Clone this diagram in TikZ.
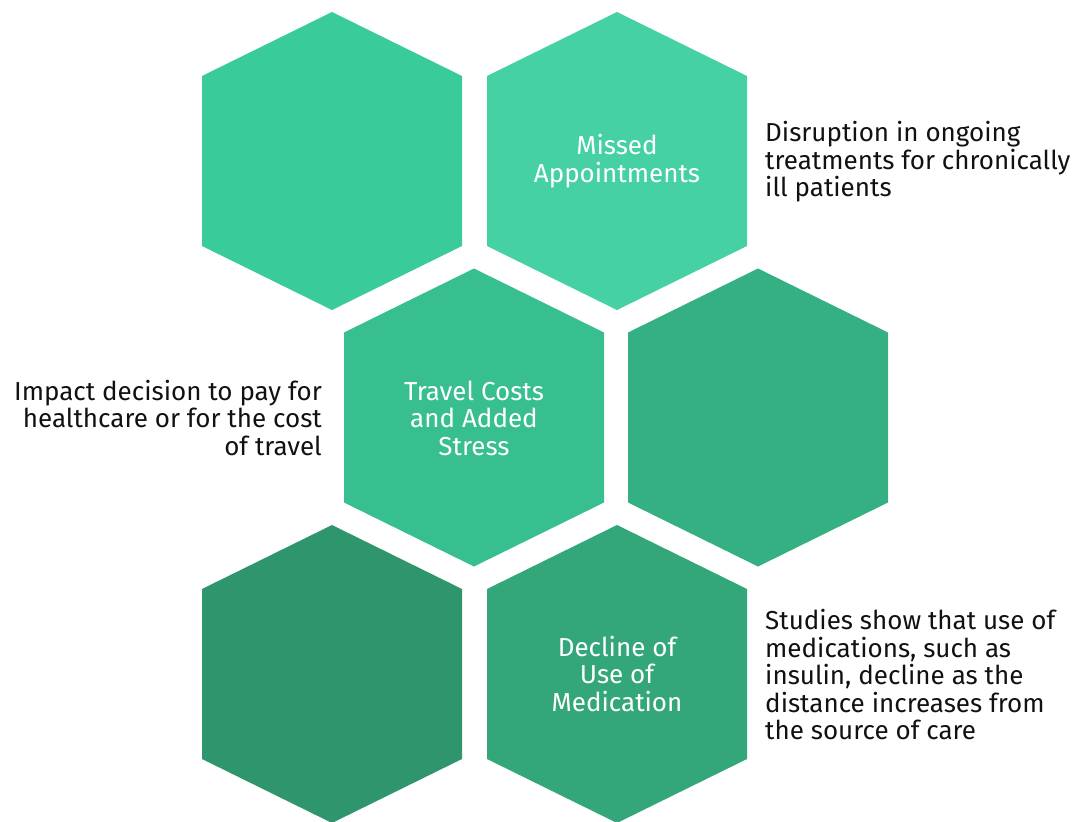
\documentclass[tikz,border=0pt]{standalone}
\usepackage{fontspec}
\setmainfont{Fira Sans}
\definecolor{hA}{HTML}{3ACB9A}
\definecolor{hB}{HTML}{45D1A3}
\definecolor{hC}{HTML}{37BF8F}
\definecolor{hD}{HTML}{35B083}
\definecolor{hE}{HTML}{2E956D}
\definecolor{hF}{HTML}{33A77A}
\definecolor{ink}{HTML}{111111}
\begin{document}
\begin{tikzpicture}[x=1pt,y=-1pt,
  hexlabel/.style={text=white, align=center, inner sep=0pt, font=\fontsize{26}{27.5}\selectfont},
  note/.style={text=ink, inner sep=0pt, font=\fontsize{26}{27.5}\selectfont}]
\useasboundingbox (0,0) rectangle (1080,822);
\foreach \n/\cx/\cy/\col in {h1/332/161/hA, h2/617/161/hB, h3/474/417.5/hC, h4/758/417.5/hD, h5/332/674/hE, h6/617/674/hF}{
  \fill[\col] (\cx,\cy-149) -- (\cx+130,\cy-85) -- (\cx+130,\cy+85) -- (\cx,\cy+149) -- (\cx-130,\cy+85) -- (\cx-130,\cy-85) -- cycle;
  \coordinate (\n) at (\cx,\cy);
}
\node[hexlabel] (t2) at (617,161) {Missed\\Appointments};
\node[hexlabel] (t3) at (474,418) {Travel Costs\\and Added\\Stress};
\node[hexlabel] (t6) at (617,674) {Decline of\\Use of\\Medication};
\node[note, anchor=west, align=left] (n2) at (765,162) {Disruption in ongoing\\treatments for chronically\\ill patients};
\node[note, anchor=east, align=right] (n3) at (322,418) {Impact decision to pay for\\healthcare or for the cost\\of travel};
\node[note, anchor=west, align=left] (n6) at (765,675) {Studies show that use of\\medications, such as\\insulin, decline as the\\distance increases from\\the source of care};
\end{tikzpicture}
\end{document}
